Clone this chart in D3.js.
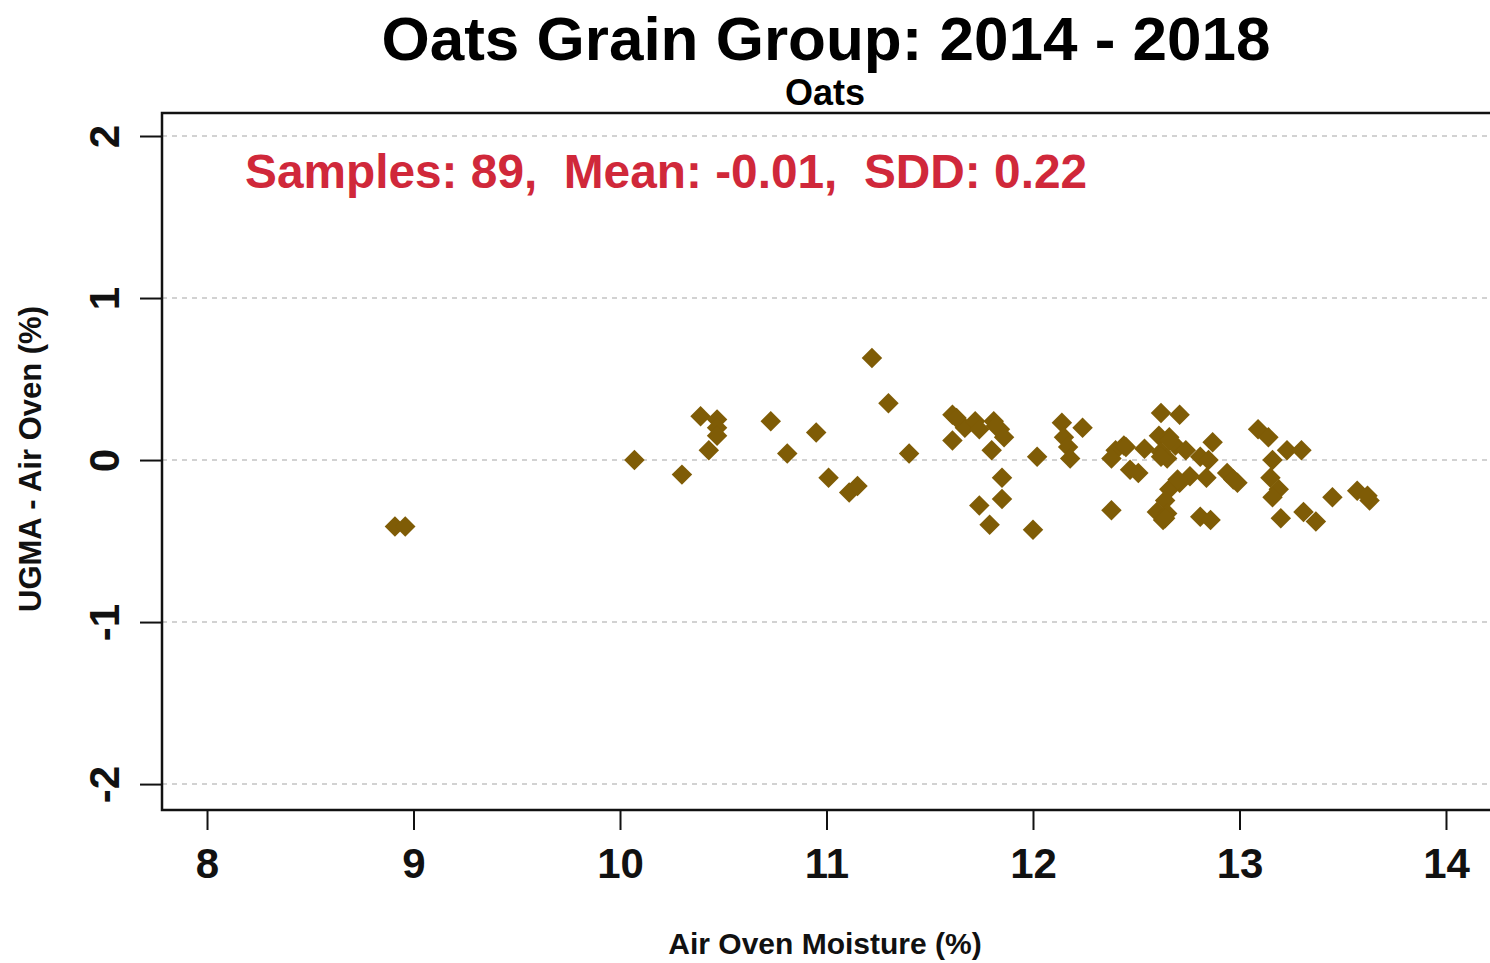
<!DOCTYPE html>
<html>
<head>
<meta charset="utf-8">
<script src="https://cdn.jsdelivr.net/npm/d3@7"></script>
<style>
  body { margin: 0; background: #fff; }
  text { font-family: "Liberation Sans", Arial, sans-serif; font-weight: bold; }
</style>
</head>
<body>
<div id="chart"></div>
<script>
// data
var moisture = [8.91, 8.96, 10.07, 10.30, 10.39, 10.47, 10.47, 10.47, 10.43,
  10.73, 10.81, 10.95, 11.01, 11.11, 11.15, 11.22, 11.30, 11.40,
  11.61, 11.61, 11.67, 11.72, 11.74, 11.81, 11.84, 11.86, 11.80, 11.85, 11.74, 11.85, 11.79, 12.00, 12.02,
  12.14, 12.24, 12.15, 12.17, 12.18,
  12.38, 12.62, 12.71, 12.40, 12.44, 12.38, 12.47, 12.51, 12.54, 12.61, 12.66, 12.62, 12.65, 12.69, 12.74,
  12.81, 12.85, 12.87, 12.84, 12.76, 12.71, 12.66, 12.64, 12.60, 12.65, 12.63, 12.81, 12.86, 12.94, 12.99,
  13.09, 13.14, 13.23, 13.30, 13.16, 13.15, 13.19, 13.16, 13.20, 13.31, 13.37, 13.45, 13.57, 13.63, 12.97,
  12.64, 12.66, 11.63, 12.45, 12.70, 13.62, 11.82, 12.62];
var diff = [-0.41, -0.41, 0.00, -0.09, 0.27, 0.25, 0.20, 0.15, 0.06,
  0.24, 0.04, 0.17, -0.11, -0.20, -0.16, 0.63, 0.35, 0.04,
  0.28, 0.12, 0.20, 0.24, 0.19, 0.24, 0.19, 0.14, 0.06, -0.11, -0.28, -0.24, -0.40, -0.43, 0.02,
  0.23, 0.20, 0.14, 0.08, 0.01,
  -0.31, 0.29, 0.28, 0.06, 0.09, 0.01, -0.06, -0.08, 0.07, 0.15, 0.14, 0.05, 0.01, 0.09, 0.06,
  0.02, 0.00, 0.11, -0.11, -0.10, -0.14, -0.18, -0.25, -0.32, -0.33, -0.37, -0.35, -0.37, -0.08, -0.14,
  0.19, 0.14, 0.06, 0.06, 0.00, -0.11, -0.18, -0.23, -0.36, -0.32, -0.38, -0.23, -0.19, -0.25, -0.12,
  -0.36, 0.12, 0.26, 0.08, -0.12, -0.22, 0.21, 0.02];
var xTicks = [8, 9, 10, 11, 12, 13, 14];
var yTicks = [-2, -1, 0, 1, 2];
var title = "Oats Grain Group: 2014 - 2018";
var subtitle = "Oats";
var stats = "Samples: 89,  Mean: -0.01,  SDD: 0.22";

var data = moisture.map((m, i) => ({ x: m, y: diff[i] }));

var W = 1490, H = 963;
var margin = { top: 113, right: -20, bottom: 153, left: 162 },
	width = W - margin.left - margin.right,
	height = H - margin.top - margin.bottom;

var svg = d3.select("#chart")
	.append("svg")
	.attr("width", W)
	.attr("height", H);

var g = svg.append("g")
	.attr("transform", "translate(" + margin.left + "," + margin.top + ")");

var x = d3.scaleLinear()
	.domain([7.782, 14.31])
	.range([0, width]);
var y = d3.scaleLinear()
	.domain([-2.16, 2.142])
	.range([height, 0]);

// grid lines
g.selectAll(".grid")
	.data(yTicks)
	.join("line")
	.attr("x1", 0)
	.attr("x2", width)
	.attr("y1", d => y(d))
	.attr("y2", d => y(d))
	.attr("stroke", "#c4c4c4")
	.attr("stroke-width", 1.5)
	.attr("stroke-dasharray", "5,5");

// frame
g.append("path")
	.attr("d", "M" + width + ",0H0V" + height + "H" + width)
	.attr("fill", "none")
	.attr("stroke", "#111")
	.attr("stroke-width", 2.5);

// X axis
var xAxis = g.append("g")
	.attr("transform", "translate(0," + height + ")")
	.call(d3.axisBottom(x).tickValues(xTicks).tickSize(20).tickPadding(18).tickFormat(d => String(d)));
xAxis.select(".domain").remove();
xAxis.selectAll("line").attr("stroke", "#111").attr("stroke-width", 2);
xAxis.selectAll("text")
	.attr("fill", "#111")
	.style("font-size", "42px");

// Y axis, labels turned like R's default
var yAxis = g.append("g")
	.call(d3.axisLeft(y).tickValues(yTicks).tickSize(22).tickFormat(d => String(d)));
yAxis.select(".domain").remove();
yAxis.selectAll("line").attr("stroke", "#111").attr("stroke-width", 2);
yAxis.selectAll("text")
	.attr("x", null).attr("dy", null)
	.attr("fill", "#111")
	.style("font-size", "42px")
	.attr("text-anchor", "middle")
	.attr("transform", "translate(-43,0) rotate(-90)");

// points
var diamond = d3.symbol().type(d3.symbolSquare).size(210);
g.selectAll(".pt")
	.data(data)
	.join("path")
	.attr("d", diamond)
	.attr("transform", d => "translate(" + x(d.x) + "," + y(d.y) + ") rotate(45)")
	.attr("fill", "#7f5c06");

// texts
svg.append("text")
	.attr("x", 826).attr("y", 60)
	.attr("text-anchor", "middle")
	.style("font-size", "62px")
	.attr("fill", "#000")
	.text(title);

svg.append("text")
	.attr("x", 825).attr("y", 105)
	.attr("text-anchor", "middle")
	.style("font-size", "36px")
	.attr("fill", "#000")
	.text(subtitle);

svg.append("text")
	.attr("x", 245).attr("y", 188)
	.style("font-size", "47.8px")
	.attr("fill", "#d0283a")
	.attr("xml:space", "preserve")
	.style("white-space", "pre")
	.text(stats);

svg.append("text")
	.attr("x", 825).attr("y", 954)
	.attr("text-anchor", "middle")
	.style("font-size", "30px")
	.attr("fill", "#111")
	.text("Air Oven Moisture (%)");

svg.append("text")
	.attr("transform", "translate(41,459) rotate(-90)")
	.attr("text-anchor", "middle")
	.style("font-size", "31px")
	.attr("fill", "#111")
	.text("UGMA - Air Oven (%)");
</script>
</body>
</html>
